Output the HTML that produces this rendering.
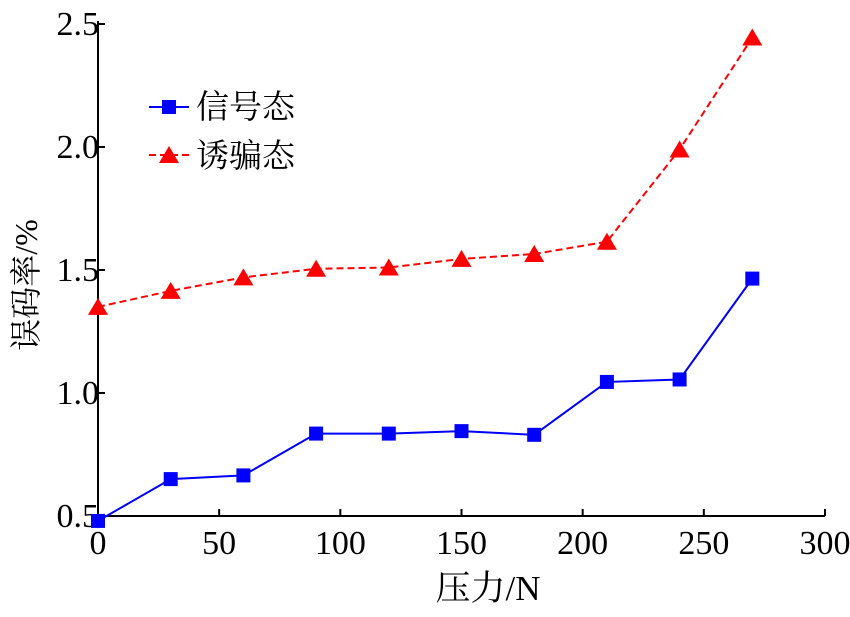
<!DOCTYPE html>
<html><head><meta charset="utf-8"><style>
body{margin:0;background:#fff}
svg text{font-family:"Liberation Serif","Noto Serif CJK SC",serif;fill:#000}
</style></head><body>
<svg id="chart" width="850" height="612"></svg>
<script>
const xValues=[0,30,60,90,120,150,180,210,240,270];
const signalValues=[0.48,0.65,0.665,0.835,0.835,0.845,0.83,1.045,1.055,1.465];
const decoyValues=[1.35,1.415,1.47,1.505,1.51,1.545,1.565,1.615,1.99,2.445];
const xTicks=[0,50,100,150,200,250,300];
const yTicks=[0.5,1.0,1.5,2.0,2.5];
const yTickLabels=["0.5","1.0","1.5","2.0","2.5"];
const NS="http://www.w3.org/2000/svg";
const svg=document.getElementById('chart');
const X0=98,X1=825,Y0=516,Y1=24;
const sx=v=>X0+(v-0)/300*(X1-X0);
const sy=v=>Y0-(v-0.5)/2*(Y0-Y1);
function mk(t,a,p){const e=document.createElementNS(NS,t);for(const k in a)e.setAttribute(k,a[k]);(p||svg).appendChild(e);return e;}
let e=mk('line',{x1:X0,y1:Y0,x2:X1,y2:Y0,stroke:'#000','stroke-width':2});


e=mk('line',{x1:X0,y1:Y0,x2:X0,y2:Y1-3,stroke:'#000','stroke-width':2});


xTicks.forEach(v=>{
 mk('line',{x1:sx(v),y1:Y0,x2:sx(v),y2:Y0-7,stroke:'#000','stroke-width':2});
 const t=mk('text',{x:sx(v),y:Y0+38,'text-anchor':'middle','font-size':34});t.textContent=v;
 
 
});
yTicks.forEach((v,i)=>{
 mk('line',{x1:X0,y1:sy(v),x2:X0+7,y2:sy(v),stroke:'#000','stroke-width':2});
 const t=mk('text',{x:X0+1,y:sy(v)+11,'text-anchor':'end','font-size':34});t.textContent=yTickLabels[i];
 
 
});
let t=mk('text',{x:488,y:600,'text-anchor':'middle','font-size':35});t.textContent='压力/N';


t=mk('text',{x:0,y:0,'text-anchor':'middle','font-size':32,transform:'translate(37,285) rotate(-90)'});t.textContent='误码率/%';


function pts(a){return xValues.map((x,i)=>sx(x)+','+sy(a[i])).join(' ');}
e=mk('polyline',{points:pts(decoyValues),fill:'none',stroke:'#f00','stroke-width':2,'stroke-dasharray':'7,4'});


e=mk('polyline',{points:pts(signalValues),fill:'none',stroke:'#00f','stroke-width':2});


function tri(cx,cy){return `${cx},${cy-9} ${cx-10},${cy+8} ${cx+10},${cy+8}`;}
xValues.forEach((x,i)=>{
 const p=mk('polygon',{points:tri(sx(x),sy(decoyValues[i])),fill:'#f00'});
 
 
 const r=mk('rect',{x:sx(x)-7,y:sy(signalValues[i])-7,width:14,height:14,fill:'#00f'});
 
 
});
mk('line',{x1:149,y1:107,x2:189,y2:107,stroke:'#00f','stroke-width':2});
mk('rect',{x:162,y:100,width:14,height:14,fill:'#00f'});
mk('line',{x1:149,y1:155,x2:189,y2:155,stroke:'#f00','stroke-width':2,'stroke-dasharray':'7,4'});
mk('polygon',{points:tri(169,155),fill:'#f00'});
t=mk('text',{x:196,y:118,'font-size':33});t.textContent='信号态';


t=mk('text',{x:196,y:167,'font-size':33});t.textContent='诱骗态';


</script>
</body></html>
